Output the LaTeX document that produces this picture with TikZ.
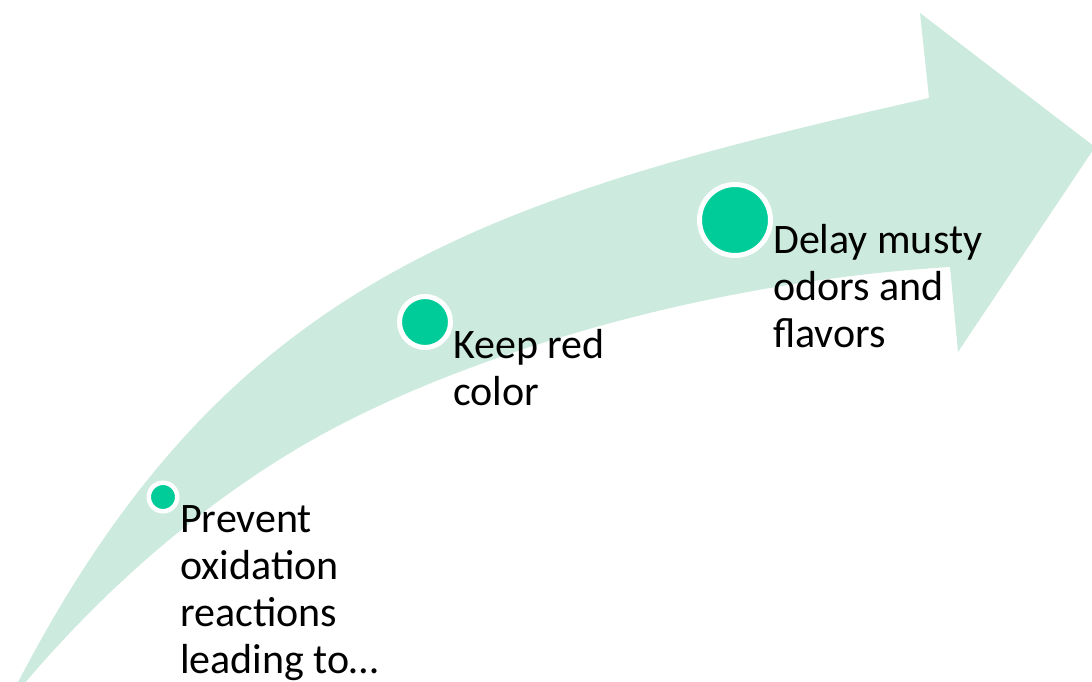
\documentclass[tikz,border=0pt]{standalone}
\usepackage{fontspec}
\setmainfont{Carlito}
\definecolor{band}{RGB}{204,235,222}
\definecolor{dot}{RGB}{0,204,153}
\begin{document}
\begin{tikzpicture}[x=1pt,y=-1pt,
  dotnode/.style={circle,fill=dot,draw=white,inner sep=0pt},
  txt/.style={anchor=base west,align=left,inner sep=0pt,font=\fontsize{42}{47}\selectfont,text=black}]
\useasboundingbox (0,0) rectangle (1092,682);
\fill[band] (14,690) .. controls (224,280.5) and (479,200) .. (929,98)
  -- (920,13) -- (1095,147) -- (958,352) -- (950,267)
  .. controls (700,282) and (450,358.5) .. (300,447)
  .. controls (210,500) and (109,582) .. (19,690) -- cycle;
\node[dotnode,line width=4.5pt,minimum size=28.5pt] (d1) at (163,497) {};
\node[dotnode,line width=5pt,minimum size=51pt] (d2) at (425,322) {};
\node[dotnode,line width=5pt,minimum size=71pt] (d3) at (735,220) {};
\node[txt] (t1) at (180,673) {Prevent\\oxidation\\reactions\\leading to…};
\node[txt] (t2) at (453,405) {Keep red\\color};
\node[txt] (t3) at (773,347) {Delay musty\\odors and\\flavors};
\end{tikzpicture}
\end{document}
